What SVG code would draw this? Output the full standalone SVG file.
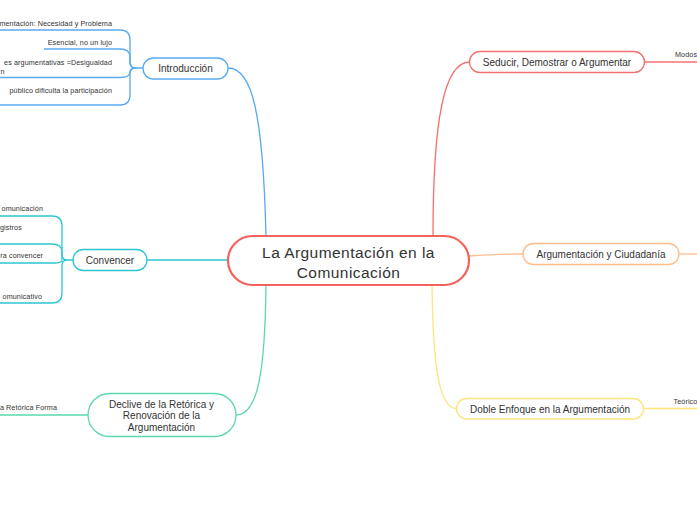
<svg xmlns="http://www.w3.org/2000/svg" width="697" height="520" viewBox="0 0 697 520">
<style>
text{font-family:"Liberation Sans","DejaVu Sans",sans-serif;fill:#333}
.n{fill:#fff;stroke-width:1.3}
.t{font-size:10px;text-anchor:middle}
.c{font-size:7.2px;letter-spacing:0.1px}
.e{text-anchor:end}
.l{fill:none;stroke-width:1.3}
.blue{stroke:#58aaf2}
.cyan{stroke:#2cc5d4}
.green{stroke:#5dd8ab}
.red{stroke:#f47070}
.orange{stroke:#ffbd8c}
.yellow{stroke:#fde47c}
</style>
<rect width="697" height="520" fill="#fff"/>
<g id="connectors">
<path class="l blue" d="M228 68 C252 68 263 112 266 236"/>
<path class="l red" d="M433 236 C433 120 444 62 469.5 62"/>
<path class="l orange" d="M469 256 C492 254 500 254 523 254"/>
<path class="l yellow" d="M432 285 C433 372 440 408.5 456.5 408.5"/>
<path class="l green" d="M266 285 C265 372 258 415 236 415"/>
<path class="l cyan" d="M147 260 H228"/>
<path class="l blue" d="M0 30 H120 Q130 30 130 40 V62 Q130 68 136 68 H143"/>
<path class="l blue" d="M44 49 H120 Q130 49 130 57 V62 Q130 68 136 68"/>
<path class="l blue" d="M0 77.5 H120 Q130 77.5 130 72 Q130 68 136 68"/>
<path class="l blue" d="M0 105 H120 Q130 105 130 95 V74 Q130 68 136 68"/>
<path class="l cyan" d="M0 216 H52 Q62 216 62 226 V254 Q62 260 67 260 H73"/>
<path class="l cyan" d="M0 244 H52 Q62 244 62 252 V260"/>
<path class="l cyan" d="M0 263 H54 Q62 263 62 260"/>
<path class="l cyan" d="M0 303 H52 Q62 303 62 293 V266 Q62 260 67 260"/>
<path class="l green" d="M0 415 H88"/>
<path class="l red" d="M644.5 62 H697"/>
<path class="l orange" d="M679 254 H697"/>
<path class="l yellow" d="M643.5 408.5 H697"/>
</g>
<g id="central">
<rect x="228" y="236" width="241" height="49" rx="24.5" fill="#fff" stroke="#f4625e" stroke-width="2.2"/>
<text x="348.5" y="257.5" font-size="15.5" letter-spacing="0.45" text-anchor="middle">La Argumentación en la</text>
<text x="348.5" y="277.5" font-size="15.5" letter-spacing="0.45" text-anchor="middle">Comunicación</text>
</g>
<g id="introduccion">
<rect class="n blue" x="143" y="58" width="85" height="21" rx="10.5"/>
<text class="t" x="185.5" y="72">Introducción</text>
</g>
<g id="intro-1"><text class="c e" x="112" y="25.5">mentación: Necesidad y Problema</text></g>
<g id="intro-2"><text class="c e" x="112" y="45">Esencial, no un lujo</text></g>
<g id="intro-3"><text class="c e" x="112" y="64.5">es argumentativas =Desigualdad</text><text class="c" x="0.5" y="74">n</text></g>
<g id="intro-4"><text class="c e" x="112" y="92.5">público dificulta la participación</text></g>
<g id="convencer">
<rect class="n cyan" x="73" y="249.5" width="74" height="21" rx="10.5"/>
<text class="t" x="110" y="263.5">Convencer</text>
</g>
<g id="conv-1"><text class="c e" x="43" y="210.5">omunicación</text></g>
<g id="conv-2"><text class="c" x="0" y="230">gistros</text></g>
<g id="conv-3"><text class="c e" x="43" y="257.5">ra convencer</text></g>
<g id="conv-4"><text class="c e" x="42" y="298.5">omunicativo</text></g>
<g id="declive">
<rect class="n green" x="88" y="393.5" width="148" height="43" rx="21.5"/>
<text class="t" x="161.5" y="407.5" font-size="9.5">Declive de la Retórica y</text>
<text class="t" x="161.5" y="419">Renovación de la</text>
<text class="t" x="161.5" y="430.5">Argumentación</text>
</g>
<g id="declive-1"><text class="c e" x="57" y="410">a Retórica Forma</text></g>
<g id="seducir">
<rect class="n red" x="469.5" y="51.5" width="175" height="21" rx="10.5"/>
<text class="t" x="557" y="65.5">Seducir, Demostrar o Argumentar</text>
</g>
<g id="seducir-1"><text class="c" x="675" y="56.5">Modos</text></g>
<g id="ciudadania">
<rect class="n orange" x="523" y="243.5" width="156" height="21" rx="10.5"/>
<text class="t" x="601" y="257.5" font-size="9.5">Argumentación y Ciudadanía</text>
</g>
<g id="doble">
<rect class="n yellow" x="456.5" y="398.5" width="187" height="20.5" rx="10.25"/>
<text class="t" x="550" y="412.5">Doble Enfoque en la Argumentación</text>
</g>
<g id="doble-1"><text class="c" x="673.5" y="403.5">Teórico</text></g>
</svg>
